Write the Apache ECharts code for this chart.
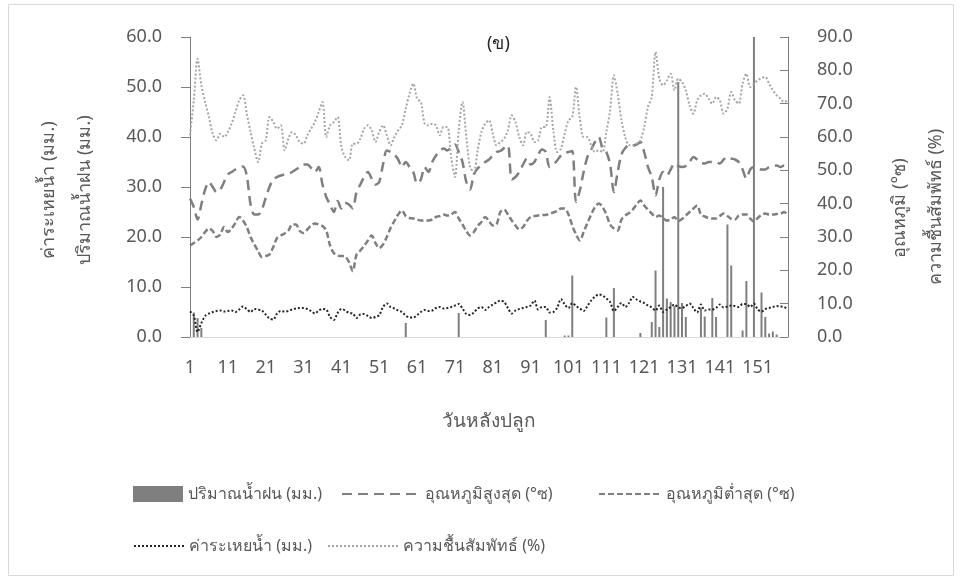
<!DOCTYPE html>
<html>
<head>
<meta charset="utf-8">
<script src="https://cdn.jsdelivr.net/npm/echarts@6/dist/echarts.min.js"></script>
<style>
  html, body { margin: 0; padding: 0; background: #fff; }
  #chart { width: 962px; height: 581px; }
</style>
</head>
<body>
<div id="chart"></div>
<script>
// วันหลังปลูก 1..159
var days = [];
for (var i = 1; i <= 159; i++) days.push(String(i));

var rain = [
  0, 4.9, 3.8, 1.8, 0, 0, 0, 0, 0, 0,
  0, 0, 0, 0, 0, 0, 0, 0, 0, 0,
  0, 0, 0, 0, 0, 0, 0, 0, 0, 0,
  0, 0, 0, 0, 0, 0, 0, 0, 0, 0,
  0, 0, 0, 0, 0, 0, 0, 0, 0, 0,
  0, 0, 0, 0, 0, 0, 0, 2.8, 0, 0,
  0, 0, 0, 0, 0, 0, 0, 0, 0, 0,
  0, 4.8, 0, 0, 0, 0, 0, 0, 0, 0,
  0, 0, 0, 0, 0, 0, 0, 0, 0, 0,
  0, 0, 0, 0, 3.4, 0, 0, 0, 0, 0.3,
  0.3, 12.3, 0, 0, 0, 0, 0, 0, 0, 0,
  3.9, 0, 9.8, 0, 0, 0, 0, 0, 0, 0.8,
  0, 0, 3, 13.3, 2, 30, 7.7, 7, 6.2, 51,
  6.8, 4, 0, 0, 0, 5.8, 4.1, 0, 7.8, 4,
  0, 0, 22.5, 14.3, 0, 0, 1.3, 11.2, 0, 60,
  0, 8.9, 4, 0.7, 1.1, 0.5, 0, 0, 0
];

var tmax = [
  27.7, 26, 23.5, 26.5, 29.5, 31, 30, 29, 29.5, 31,
  32.5, 33, 33.5, 33.8, 34.1, 32.3, 26.5, 24.5, 24.5, 25.5,
  27.8, 30, 31.5, 32, 32.3, 32.5, 32.7, 33, 33.5, 34,
  34.5, 34.5, 33.8, 33, 34, 30.5, 28, 26.5, 25, 27.2,
  25.7, 26.8, 26.5, 25.7, 29, 30.5, 32, 33, 31.7, 30.5,
  31, 34.5, 37.3, 37, 36.5, 35.5, 34, 35, 34, 33,
  30.7, 31.5, 34, 33, 35, 36.3, 37.2, 37.7, 37.3, 38,
  38.5, 37, 35, 31, 29.5, 32.5, 33.7, 34.3, 35, 35.5,
  36.3, 37, 37.2, 37.8, 38.3, 31.5, 32, 33, 34.5, 35.7,
  34.5, 35, 36.5, 37.5, 37, 34, 34.5, 35.3, 36.3, 36.8,
  37, 37.2, 27, 29.3, 33, 36, 37.5, 39, 40, 37.7,
  37, 34.5, 29, 33, 36.5, 37.8, 38.3, 38.3, 38.5, 39,
  37, 34, 32, 28.3, 31.5, 33, 32.3, 33.5, 34.7, 34.2,
  34, 34.2, 35, 36, 35.5, 34.8, 34.7, 35, 35, 35,
  34.7, 35.5, 36, 35.7, 35.5, 35, 33.5, 31.7, 33.5, 34,
  33.7, 33.5, 33.5, 34, 34.2, 34.3, 34, 34.3, 34
];

var tmin = [
  18.3, 18.8, 19.3, 20, 21, 21.7, 21.2, 20, 20.5, 22,
  21, 21.7, 22.8, 24, 23.3, 22, 20, 18.5, 17.2, 16,
  16.2, 16.5, 18, 19.8, 20.3, 20.7, 21.3, 22.5, 22.5, 21.2,
  20.8, 21.5, 22.3, 22.7, 22.5, 22.2, 21.3, 18.3, 16.8, 16.3,
  16.2, 16.1, 15, 13.2, 16.5, 17.3, 18.2, 19.3, 20.3, 18.8,
  17.8, 18.5, 20, 21.8, 23.2, 24.5, 25.3, 24.2, 23.8, 23.7,
  23.5, 23.3, 23.3, 23.3, 23.5, 24, 24.2, 24.5, 24.3, 24.5,
  25, 23.7, 22.5, 21.2, 20.3, 21, 22.2, 23, 24, 23.2,
  22.3, 22.5, 25, 25.5, 24.5, 23.3, 22.3, 21.5, 22, 23.2,
  24, 24.2, 24.3, 24.4, 24.4, 24.7, 24.9, 25.2, 25.7, 25.7,
  24.5, 22.3, 20.5, 19.3, 21, 22.8, 24.5, 26, 26.7, 26,
  24.5, 22.5, 21.7, 21.3, 23.5, 24.3, 24.8, 25.5, 26.5, 27.3,
  26.3, 25.5, 24.7, 24, 24.3, 23.8, 23.3, 23.5, 24, 23.2,
  23.6, 24.3, 25, 25.7, 26.3, 24.5, 24.1, 23.8, 23.7, 23.7,
  24.2, 24.7, 24.2, 23.6, 23.5, 24.3, 24.5, 24.5, 23.7, 23.1,
  23.8, 24.4, 24.7, 24.5, 24.5, 24.6, 24.7, 25, 24.3
];

var evap = [
  5.1, 4.3, 1, 2.8, 4.2, 4.7, 5, 5.2, 5.3, 5.1,
  5.2, 5.3, 5, 5.5, 6.1, 5.6, 5, 5.6, 5.5, 5.3,
  4.5, 3.7, 3.5, 4.7, 5.2, 5.1, 5.2, 5.5, 5.7, 5.8,
  5.8, 5.6, 5.2, 4.7, 5.3, 5.6, 5.5, 4, 3.4, 4.8,
  5.6, 5.3, 4.8, 4.7, 3.8, 4.5, 4.6, 4.2, 3.8, 4,
  4.4, 6, 6.7, 6, 5.7, 5.3, 5, 4.3, 3.9, 3.9,
  4.4, 5, 5.4, 5.2, 5.3, 5.8, 6, 5.7, 5.8, 6,
  6.3, 6.6, 5.7, 4.6, 4.4, 4.9, 5.7, 6, 5.4, 6,
  6.5, 6.9, 7.3, 7, 5.8, 4.7, 5.3, 5.6, 5.8, 6,
  6.3, 7.3, 5.5, 6, 6, 4.9, 5, 5.8, 7.6, 6.5,
  5.8, 6.8, 6.2, 5.7, 5.2, 6.2, 7.3, 8.1, 8.5, 8.3,
  7.7, 7, 5.2, 6, 6.8, 6, 6.8, 8, 7.5, 7.1,
  6.8, 6.3, 5.9, 5.3, 6.3, 5, 5.5, 6, 6.5, 5.9,
  5.8, 6.2, 6.7, 5.8, 4.9, 6.5, 5.3, 5.5, 5.5, 5.8,
  6.5, 5.9, 6.1, 6.3, 6.2, 6, 6.6, 6.6, 6, 6.7,
  5.5, 5.1, 5.6, 5.8, 6, 6.2, 6.1, 6, 5.5
];

var humidity = [
  60.5, 71, 83.5, 75.5, 70.5, 66, 61, 59, 61, 60,
  61.5, 64, 67.5, 71, 72.5, 67, 61.5, 56.5, 52.5, 58,
  59, 66, 64.5, 62.5, 63.5, 56, 59.5, 61.5, 60.5, 58.5,
  58, 60.5, 62.5, 64.5, 67.5, 70.5, 60, 63.5, 64.5, 66,
  57, 54, 53, 58, 58, 59.5, 62.5, 63.5, 62, 58.5,
  61.5, 63.5, 60.5, 57.5, 60, 62, 63.5, 68.5, 73, 76,
  71.5, 70.5, 64, 63.5, 64, 63.5, 60.5, 63, 63, 54,
  48, 62, 70.5, 60, 51, 49.5, 56, 61.5, 64, 65,
  61, 57.5, 58.5, 59.5, 62, 66.5, 64.5, 60, 57.5, 61.5,
  61, 58.5, 59, 63, 63, 72, 62, 55.5, 56.5, 61,
  65, 66, 75, 65.5, 60, 60, 57.5, 55.5, 56, 55.5,
  61.5, 68, 78.5, 73, 65, 60, 57.5, 57.5, 58, 59,
  63, 69, 72, 85.5, 77.5, 75.5, 77, 79, 74, 77.5,
  76.5, 74, 69.5, 67, 71, 72.5, 73, 71.5, 70, 72,
  71, 67, 68.5, 73.5, 71, 70, 76, 79, 75, 76,
  77, 77.7, 78, 76, 74, 72.5, 71.5, 70.5, 71
];

var leftTicks = [0, 10, 20, 30, 40, 50, 60];
var rightTicks = [0, 10, 20, 30, 40, 50, 60, 70, 80, 90];

var names = ['ปริมาณน้ำฝน (มม.)', 'อุณหภูมิสูงสุด (°ซ)', 'อุณหภูมิต่ำสุด (°ซ)', 'ค่าระเหยน้ำ (มม.)', 'ความชื้นสัมพัทธ์ (%)'];

var font = "'Noto Sans', 'DejaVu Sans', sans-serif";
var gray = '#595959';

// one legend per item so each sits where the original has it
function legendAt(name, left, top, w) {
  return {
    data: [name],
    left: left,
    top: top,
    itemWidth: w,
    itemHeight: 16,
    itemGap: 0,
    selectedMode: false,
    itemStyle: { opacity: 0 },
    textStyle: { color: gray, fontSize: 16, fontFamily: font }
  };
}

var myChart = echarts.init(document.getElementById('chart'));
var option = {
  backgroundColor: '#fff',
  animation: false,
  title: {
    text: '(ข)',
    left: 482,
    top: 30,
    textStyle: { color: '#262626', fontSize: 18, fontWeight: 'normal', fontFamily: font }
  },
  grid: {
    left: 190,
    right: 174,
    top: 37,
    bottom: 244
  },
  legend: [
    {
      data: [names[0]],
      left: 128,
      top: 481,
      icon: 'rect',
      itemWidth: 50,
      itemHeight: 16,
      selectedMode: false,
      textStyle: { color: gray, fontSize: 16, fontFamily: font }
    },
    legendAt(names[1], 336, 481, 78),
    legendAt(names[2], 593, 481, 62),
    legendAt(names[3], 128, 533, 50),
    legendAt(names[4], 322, 533, 70)
  ],
  graphic: [
    {
      type: 'rect',
      shape: { x: 8.5, y: 4.5, width: 945, height: 571 },
      style: { fill: 'none', stroke: '#d9d9d9', lineWidth: 1 },
      silent: true
    },
    {
      type: 'text', x: 49, y: 190, rotation: Math.PI / 2,
      style: { text: 'ค่าระเหยน้ำ (มม.)', fill: gray, font: '18px ' + font, align: 'center', verticalAlign: 'middle' }
    },
    {
      type: 'text', x: 85, y: 190, rotation: Math.PI / 2,
      style: { text: 'ปริมาณน้ำฝน (มม.)', fill: gray, font: '18px ' + font, align: 'center', verticalAlign: 'middle' }
    },
    {
      type: 'text', x: 900, y: 208, rotation: Math.PI / 2,
      style: { text: 'อุณหภูมิ (°ซ)', fill: gray, font: '18px ' + font, align: 'center', verticalAlign: 'middle' }
    },
    {
      type: 'text', x: 936, y: 207, rotation: Math.PI / 2,
      style: { text: 'ความชื้นสัมพัทธ์ (%)', fill: gray, font: '18px ' + font, align: 'center', verticalAlign: 'middle' }
    }
  ],
  xAxis: [{
    type: 'category',
    data: days,
    boundaryGap: false,
    name: 'วันหลังปลูก',
    nameLocation: 'middle',
    nameGap: 75,
    nameTextStyle: { color: gray, fontSize: 19, fontFamily: font },
    axisLine: { lineStyle: { color: '#d9d9d9', width: 1 } },
    axisTick: { show: false },
    axisLabel: {
      interval: 9,
      margin: 22,
      color: gray,
      fontSize: 18,
      fontFamily: font
    },
    splitLine: { show: false }
  }],
  yAxis: [{
    type: 'value',
    min: leftTicks[0],
    max: leftTicks[leftTicks.length - 1],
    interval: 10,
    axisLine: { show: true, lineStyle: { color: '#7f7f7f' } },
    axisTick: { show: true, length: 9, lineStyle: { color: '#7f7f7f' } },
    axisLabel: {
      margin: 28,
      color: gray,
      fontSize: 18,
      fontFamily: font,
      formatter: function (v) { return v.toFixed(1); }
    },
    splitLine: { show: false }
  }, {
    type: 'value',
    position: 'right',
    min: rightTicks[0],
    max: rightTicks[rightTicks.length - 1],
    interval: 10,
    axisLine: { show: true, lineStyle: { color: '#7f7f7f' } },
    axisTick: { show: true, inside: true, length: 8, lineStyle: { color: '#7f7f7f' } },
    axisLabel: {
      margin: 29,
      color: gray,
      fontSize: 18,
      fontFamily: font,
      formatter: function (v) { return v.toFixed(1); }
    },
    splitLine: { show: false }
  }],
  series: [{
    name: names[0],
    type: 'bar',
    data: rain,
    yAxisIndex: 0,
    barWidth: 2,
    itemStyle: { color: '#7f7f7f' }
  }, {
    name: names[1],
    type: 'line',
    data: tmax,
    yAxisIndex: 0,
    symbol: 'none',
    smooth: 0.3,
    lineStyle: { color: '#7f7f7f', width: 2.5, type: [10, 6] },
    itemStyle: { color: '#7f7f7f' }
  }, {
    name: names[2],
    type: 'line',
    data: tmin,
    yAxisIndex: 0,
    symbol: 'none',
    smooth: 0.3,
    lineStyle: { color: '#7f7f7f', width: 2.5, type: [6, 3] },
    itemStyle: { color: '#7f7f7f' }
  }, {
    name: names[3],
    type: 'line',
    data: evap,
    yAxisIndex: 0,
    symbol: 'none',
    smooth: 0.3,
    lineStyle: { color: '#262626', width: 2, type: [2, 2] },
    itemStyle: { color: '#262626' }
  }, {
    name: names[4],
    type: 'line',
    data: humidity,
    yAxisIndex: 1,
    symbol: 'none',
    smooth: 0.3,
    lineStyle: { color: '#a6a6a6', width: 2, type: [2, 2] },
    itemStyle: { color: '#a6a6a6' }
  }]
};
myChart.setOption(option);
</script>
</body>
</html>
